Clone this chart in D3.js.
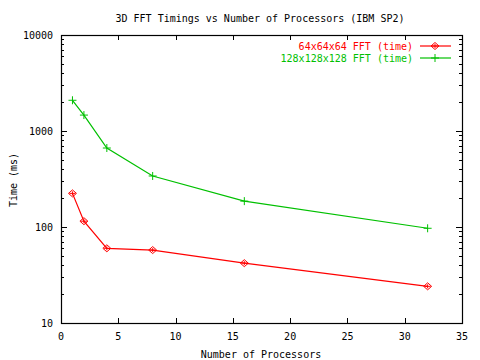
<!DOCTYPE html>
<html>
<head>
<meta charset="utf-8">
<script src="https://cdn.jsdelivr.net/npm/d3@7"></script>
<style>
  body { margin: 0; background: #fff; }
  svg text { font-family: "DejaVu Sans Mono", "Liberation Mono", monospace; font-size: 10px; }
</style>
</head>
<body>
<div id="chart"></div>
<script>
// ── Data ─────────────────────────────────────────────────────────────
const procs      = [1, 2, 4, 8, 16, 32];
const fft64      = [224, 115, 60, 57.5, 42, 24.1];
const fft128     = [2090, 1465, 665, 340, 186, 97];
const xTicks     = [0, 5, 10, 15, 20, 25, 30, 35];
const yTicks     = [10, 100, 1000, 10000];
const seriesNames = ['64x64x64 FFT (time)', '128x128x128 FFT (time)'];
const seriesColors = ['#ff0000', '#00c000'];

const W = 480, H = 360;
const M = { top: 35, right: 18, bottom: 37, left: 61 };
const iw = W - M.left - M.right;
const ih = H - M.top - M.bottom;

const svg = d3.select('#chart').append('svg').attr('width', W).attr('height', H);
const g = svg.append('g').attr('transform', `translate(${M.left},${M.top})`);

const x = d3.scaleLinear().domain([0, 35]).range([0, iw]);
const y = d3.scaleLog().domain([10, 10000]).range([ih, 0]);

// ── Ticks (gnuplot style, inward on all sides) ─────────────────────
const minor = [];
for (let d = 10; d < 10000; d *= 10) for (let k = 2; k <= 9; k++) minor.push(d * k);

const tickG = g.append('g').attr('stroke', '#000').attr('stroke-width', 1);
xTicks.slice(1, -1).forEach(t => {
  const px = Math.round(x(t)) + 0.5;
  tickG.append('line').attr('x1', px).attr('x2', px).attr('y1', ih).attr('y2', ih - 5);
  tickG.append('line').attr('x1', px).attr('x2', px).attr('y1', 0).attr('y2', 5);
});
yTicks.forEach(t => {
  const py = Math.round(y(t)) + 0.5;
  tickG.append('line').attr('x1', 0).attr('x2', 6).attr('y1', py).attr('y2', py);
  tickG.append('line').attr('x1', iw).attr('x2', iw - 6).attr('y1', py).attr('y2', py);
});
minor.forEach(t => {
  const py = Math.round(y(t)) + 0.5;
  tickG.append('line').attr('x1', 0).attr('x2', 3).attr('y1', py).attr('y2', py);
  tickG.append('line').attr('x1', iw).attr('x2', iw - 3).attr('y1', py).attr('y2', py);
});

// frame
g.append('rect').attr('x', 0.5).attr('y', 0.5).attr('width', iw).attr('height', ih)
  .attr('fill', 'none').attr('stroke', '#000').attr('stroke-width', 1.2);

// tick labels
g.selectAll('text.xt').data(xTicks).join('text').attr('class', 'xt')
  .attr('x', d => x(d)).attr('y', ih + 17).attr('text-anchor', 'middle').text(d => d);
g.selectAll('text.yt').data(yTicks).join('text').attr('class', 'yt')
  .attr('x', -8).attr('y', d => y(d) + 4).attr('text-anchor', 'end').text(d => d);

// axis labels + title
svg.append('text').attr('x', 260).attr('y', 22).attr('text-anchor', 'middle')
  .text('3D FFT Timings vs Number of Processors (IBM SP2)');
svg.append('text').attr('x', 261).attr('y', 358).attr('text-anchor', 'middle')
  .text('Number of Processors');
svg.append('text').attr('transform', 'translate(17,180) rotate(-90)')
  .attr('text-anchor', 'middle').text('Time (ms)');

// ── Series ─────────────────────────────────────────────────────────
const line = d3.line().x(d => x(d[0])).y(d => y(d[1]));

// red: hollow diamond with a cross in it, green: plain plus
function marker(sel, type, color) {
  const d = type === 0
    ? 'M-4,0L0,-3.5L4,0L0,3.5Z M-3,0H3 M0,-2V2'
    : 'M-4,0H4 M0,-4V4';
  sel.append('path').attr('d', d)
    .attr('fill', 'none').attr('stroke', color).attr('stroke-width', 1);
}

[fft64, fft128].forEach((vals, i) => {
  const pts = procs.map((p, j) => [p, vals[j]]);
  g.append('path').datum(pts).attr('d', line)
    .attr('fill', 'none').attr('stroke', seriesColors[i]).attr('stroke-width', 1.2);
  g.selectAll(null).data(pts).join('g')
    .attr('transform', d => `translate(${x(d[0])},${y(d[1])})`)
    .each(function () { marker(d3.select(this), i, seriesColors[i]); });
});

// ── Legend ─────────────────────────────────────────────────────────
seriesNames.forEach((name, i) => {
  const ly = 46 + i * 12;
  svg.append('text').attr('x', 413).attr('y', ly + 4).attr('text-anchor', 'end')
    .attr('fill', seriesColors[i]).text(name);
  svg.append('line').attr('x1', 420).attr('x2', 451).attr('y1', ly).attr('y2', ly)
    .attr('stroke', seriesColors[i]).attr('stroke-width', 1.2);
  const mg = svg.append('g').attr('transform', `translate(435,${ly})`);
  marker(mg, i, seriesColors[i]);
});
</script>
</body>
</html>
